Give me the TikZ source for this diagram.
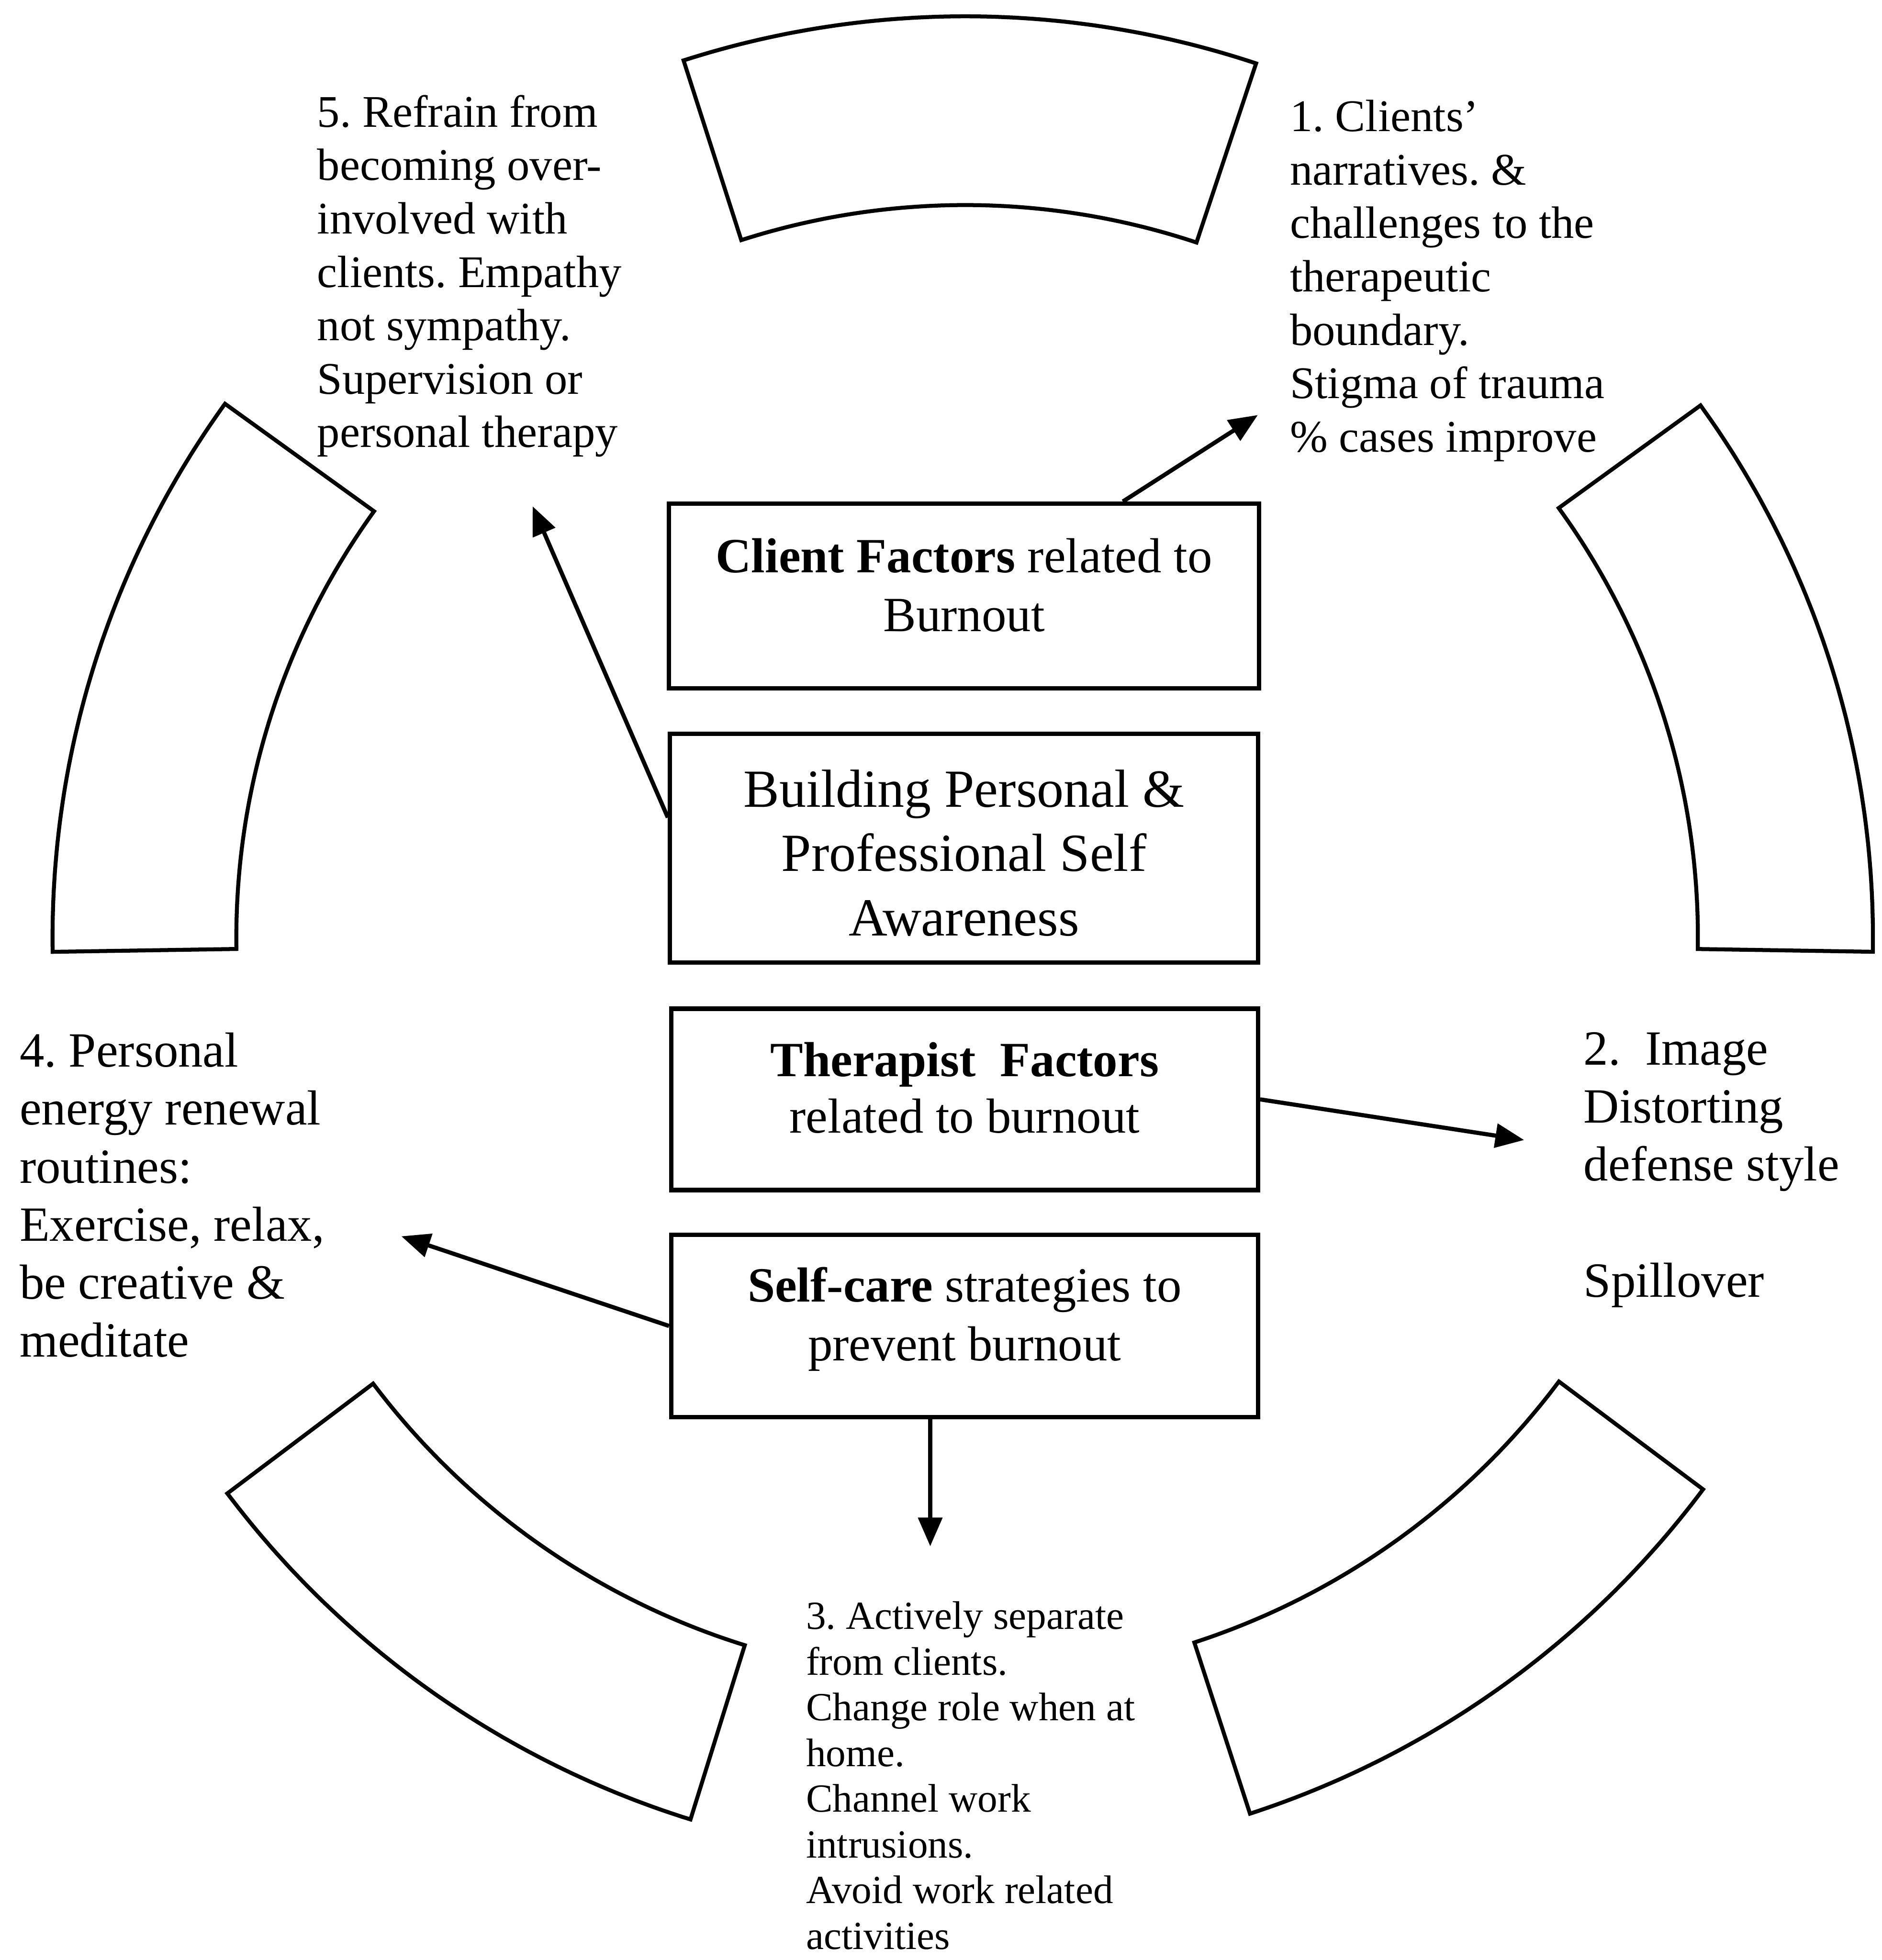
\documentclass[tikz,border=0pt]{standalone}
\usepackage{fontspec}
\setmainfont{Liberation Serif}
\usetikzlibrary{arrows.meta,calc}
\frenchspacing
\newcommand{\ringseg}[6]{%
  \draw[segline] plot[domain=#5:#6, samples=60] ({#1+#3*cos(\x)},{#2-#3*sin(\x)})
    -- plot[domain=#6:#5, samples=60] ({#1+#4*cos(\x)},{#2-#4*sin(\x)}) -- cycle;}
\begin{document}
\begin{tikzpicture}[x=0.01cm,y=-0.01cm,
  segline/.style={line width=0.9pt, line join=miter},
  box/.style={draw, line width=1pt, inner sep=0pt},
  arr/.style={line width=0.95pt, -{Triangle[length=0.23cm,width=0.19cm]}},
  txt/.style={inner sep=0pt, anchor=north west, align=left},
  boxtxt/.style={inner sep=0pt, anchor=north, align=center},
  smalltxt/.style={font=\fontsize{10.3}{12.15}\selectfont},
  midtxt/.style={font=\fontsize{11.2}{13.2}\selectfont},
  boxfont/.style={font=\fontsize{11.2}{13.4}\selectfont}]
\useasboundingbox (0,0) rectangle (1505,1568);

% ring segments
\ringseg{772}{750}{737}{586}{71.6}{107.8}
\ringseg{772}{750}{730}{583}{144.2}{180.9}
\ringseg{772}{750}{739}{593}{217}{252.7}
\ringseg{772}{750}{737}{593}{288}{323.2}
\ringseg{772}{750}{726}{586}{-0.9}{35.9}

% central boxes
\node[box, minimum width=4.72cm, minimum height=1.475cm] (cf) at (771,476.75) {};
\node[boxtxt, boxfont] (cft) at (771,430) {\textbf{Client Factors} related to\\Burnout};
\node[box, minimum width=4.70cm, minimum height=1.83cm] (bp) at (771,678.5) {};
\node[boxtxt, font=\fontsize{12.2}{14.65}\selectfont] (bpt) at (771,615) {Building Personal \&\\Professional Self\\Awareness};
\node[box, minimum width=4.69cm, minimum height=1.45cm] (tf) at (771.5,879.5) {};
\node[boxtxt, font=\fontsize{11.2}{12.9}\selectfont] (tft) at (771.5,833) {\textbf{Therapist\ \ Factors}\\related to burnout};
\node[box, minimum width=4.69cm, minimum height=1.455cm] (sc) at (771.5,1060.75) {};
\node[boxtxt, boxfont] (sct) at (771.5,1013) {\textbf{Self-care} strategies to\\prevent burnout};

% outer texts
\node[txt, smalltxt] (t5) at (253,75.3) {5. Refrain from\\becoming over-\\involved with\\clients. Empathy\\not sympathy.\\Supervision or\\personal therapy};
\node[txt, smalltxt] (t1) at (1031,79.3) {1. Clients’\\narratives. \&\\challenges to the\\therapeutic\\boundary.\\Stigma of trauma\\\% cases improve};
\node[txt, midtxt] (t2) at (1266,825) {2.\ \ Image\\Distorting\\defense style\\[13.2pt]Spillover};
\node[txt, midtxt] (t4) at (15,825.5) {4. Personal\\energy renewal\\routines:\\Exercise, relax,\\be creative \&\\meditate};
\node[txt, font=\fontsize{9.07}{10.39}\selectfont] (t3) at (644,1280.6) {3. Actively separate\\from clients.\\Change role when at\\home.\\Channel work\\intrusions.\\Avoid work related\\activities};

% arrow ends
\coordinate (e1) at (1006,332);
\coordinate (e5) at (426,405);
\coordinate (e2) at (1219,912);
\coordinate (e4) at (321,989);
\coordinate (e3) at (744,1237);

\draw[arr] ([xshift=1.27cm]cf.north) -- (e1);
\draw[arr] ([yshift=0.245cm]bp.west) -- (e5);
\draw[arr] (tf.east) -- (e2);
\draw[arr] (sc.west) -- (e4);
\draw[arr] ([xshift=-0.275cm]sc.south) -- (e3);
\end{tikzpicture}
\end{document}
